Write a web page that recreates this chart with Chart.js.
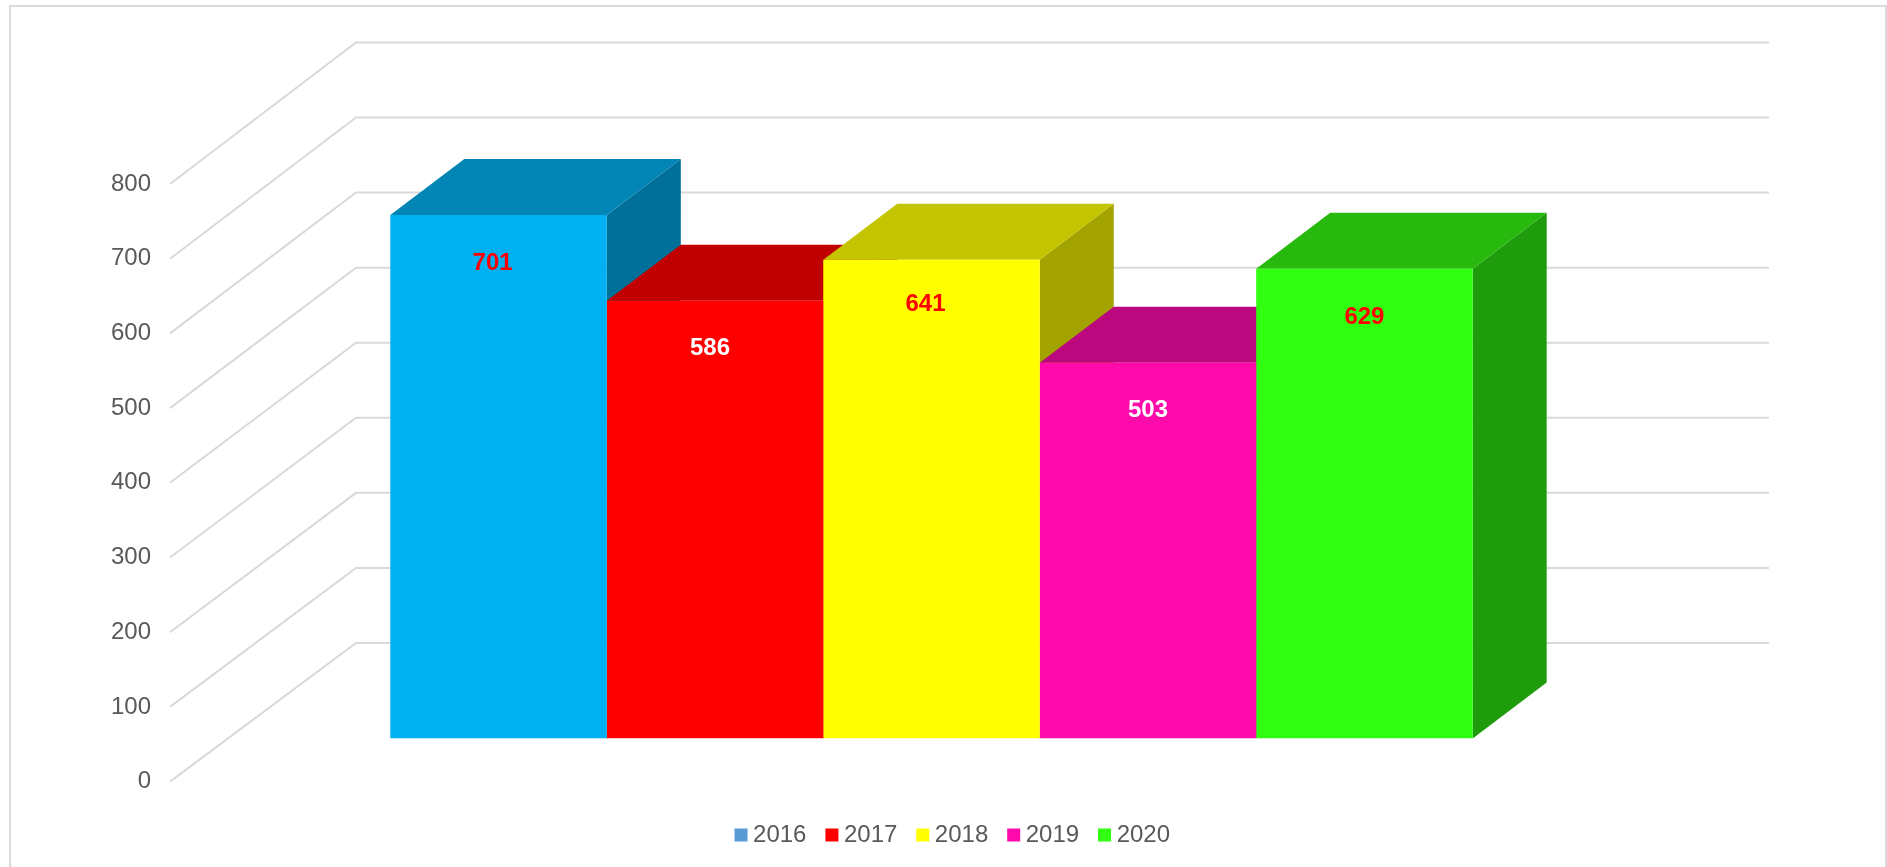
<!DOCTYPE html>
<html>
<head>
<meta charset="utf-8">
<title>2016-2020</title>
<script src="https://cdn.jsdelivr.net/npm/chart.js@4/dist/chart.umd.min.js"></script>
<style>
  html, body { margin: 0; padding: 0; background: #fff; overflow: hidden; }
  #frame { position: absolute; left: 9px; top: 5px; width: 1874px; height: 900px; border: 2px solid #d9d9d9; }
  #chart { position: absolute; left: 0; top: 0; }
</style>
</head>
<body>
<div id="frame"></div>
<canvas id="chart" width="1887" height="867"></canvas>
<script>
const years = ['2016', '2017', '2018', '2019', '2020'];
const values = [701, 586, 641, 503, 629];

const faceColors = ['#00B0F0', '#FF0000', '#FFFF00', '#FF0BAB', '#31FF12'];
const topColors = ['#0085B5', '#C00000', '#C4C400', '#BC087E', '#27B90D'];
const sideColors = ['#00709A', '#9C0000', '#A3A300', '#9C006C', '#1F9C0B'];
const legendColors = ['#5B9BD5', '#FF0000', '#FFFF00', '#FF0BAB', '#31FF12'];
const labelColors = ['#FF0000', '#FFFFFF', '#FF0000', '#FFFFFF', '#FF0000'];

// the value labels sit a little off centre in the original
const labelShiftX = [-6, -5, -6, 0, 0];
const labelShiftY = [48, 48, 45, 48, 49];

const FONT = '"Liberation Sans", Arial, sans-serif';

// fake 3D, offsets from the plane of the bar fronts (the chart area)
const floorFront = { dx: -55, dy: 43 };
const floorBack = { dx: 131, dy: -95.6 };
const barDepth = { dx: 74, dy: -56 };

function polygon(ctx, pts, color) {
    ctx.fillStyle = color;
    ctx.beginPath();
    pts.forEach((p, i) => { if (i) ctx.lineTo(p[0], p[1]); else ctx.moveTo(p[0], p[1]); });
    ctx.closePath();
    ctx.fill();
}

const wall3d = {
    id: 'wall3d',
    beforeDatasetsDraw(chart) {
        const ctx = chart.ctx, y = chart.scales.y, x = chart.scales.x;
        const zero = y.getPixelForValue(0);
        ctx.save();

        // grid lines run along the floor side then over the back wall
        ctx.strokeStyle = '#d9d9d9';
        ctx.lineWidth = 2;
        y.ticks.forEach(t => {
            const py = y.getPixelForValue(t.value);
            const backY = zero + (py - zero) * 1.005 + floorBack.dy;
            ctx.beginPath();
            ctx.moveTo(x.left + floorFront.dx, py + floorFront.dy);
            ctx.lineTo(x.left + floorBack.dx, backY);
            ctx.lineTo(x.right + floorBack.dx, backY);
            ctx.stroke();
        });

        // top and side of each bar, left to right so later bars cover earlier ones
        chart.data.datasets.forEach((ds, i) => {
            const bar = chart.getDatasetMeta(i).data[0];
            const l = bar.x - bar.width / 2, r = bar.x + bar.width / 2;
            const d = barDepth;
            polygon(ctx, [[r, bar.y], [r + d.dx, bar.y + d.dy], [r + d.dx, bar.base + d.dy], [r, bar.base]], sideColors[i]);
            polygon(ctx, [[l, bar.y], [l + d.dx, bar.y + d.dy], [r + d.dx, bar.y + d.dy], [r, bar.y]], topColors[i]);
        });
        ctx.restore();
    },
    afterDatasetsDraw(chart) {
        const ctx = chart.ctx;
        ctx.save();
        ctx.font = 'bold 24px ' + FONT;
        ctx.textAlign = 'center';
        ctx.textBaseline = 'middle';
        chart.data.datasets.forEach((ds, i) => {
            const bar = chart.getDatasetMeta(i).data[0];
            ctx.fillStyle = labelColors[i];
            ctx.fillText(String(values[i]), bar.x + labelShiftX[i], bar.y + labelShiftY[i]);
        });
        ctx.restore();
    }
};

new Chart(document.getElementById('chart').getContext('2d'), {
    type: 'bar',
    data: {
        labels: [''],
        datasets: years.map((yr, i) => ({ label: yr, data: [values[i]], backgroundColor: faceColors[i], borderWidth: 0 }))
    },
    options: {
        responsive: false,
        animation: false,
        devicePixelRatio: 1,
        layout: { padding: { left: 24, right: 0, top: 141, bottom: 10 } },
        datasets: { bar: { barPercentage: 1, categoryPercentage: 0.766 } },
        scales: {
            x: {
                ticks: { display: false },
                grid: { display: false },
                border: { display: false },
                afterFit: s => { s.height = 59; }
            },
            y: {
                min: 0,
                max: 800,
                ticks: { stepSize: 100, autoSkip: false, padding: 74, labelOffset: 43, color: '#595959', font: { family: FONT, size: 24 } },
                grid: { display: false, drawTicks: false },
                border: { display: false },
                afterFit: s => { s.width = 201; }
            },
            // only reserves the empty band on the right of the plot
            spacer: {
                position: 'right',
                ticks: { display: false },
                grid: { display: false, drawTicks: false },
                border: { display: false },
                afterFit: s => { s.width = 249; }
            }
        },
        plugins: {
            tooltip: { enabled: false },
            legend: {
                position: 'bottom',
                labels: {
                    color: '#595959',
                    font: { family: FONT, size: 24 },
                    usePointStyle: true,
                    pointStyle: 'rect',
                    boxWidth: 0.1,
                    boxHeight: 13,
                    padding: 25.4,
                    generateLabels: () => years.map((yr, i) => ({
                        text: yr, fontColor: '#595959', fillStyle: legendColors[i], strokeStyle: legendColors[i], lineWidth: 0, pointStyle: 'rect', datasetIndex: i
                    }))
                }
            }
        }
    },
    plugins: [wall3d]
});
</script>
</body>
</html>
